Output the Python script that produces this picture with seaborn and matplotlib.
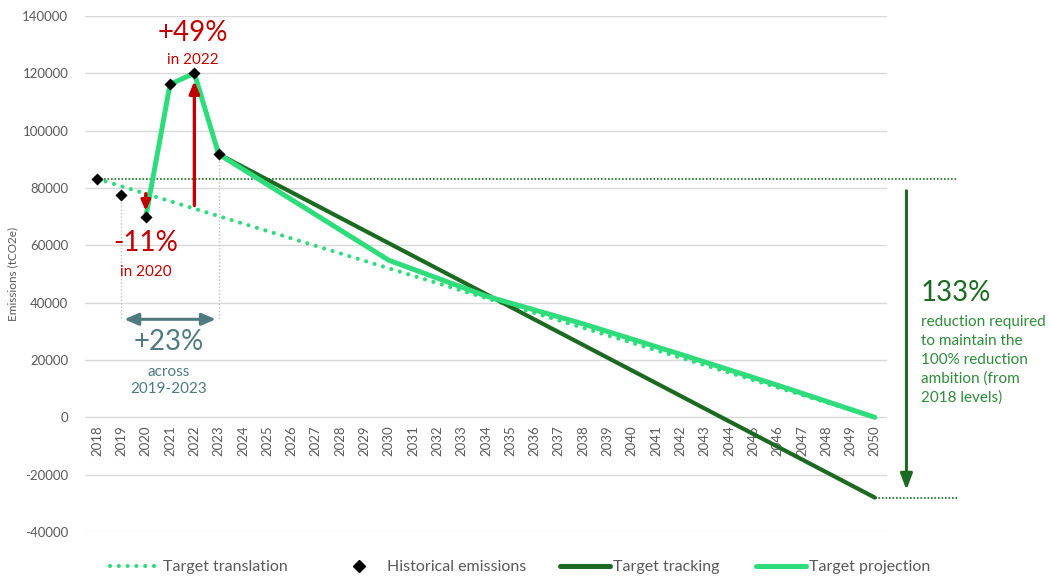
import matplotlib
matplotlib.use("Agg")
import matplotlib.pyplot as plt
from matplotlib.lines import Line2D
import seaborn as sns

# ---- data -------------------------------------------------------------
years_all = list(range(2018, 2051))

hist_years = [2018, 2019, 2020, 2021, 2022, 2023]
hist_values = [83200, 77500, 69800, 116200, 120000, 91800]

translation_years = [2018, 2050]
translation_values = [83200, 0]

tracking_years = [2023, 2050]
tracking_values = [91800, -28000]

projection_years = [2020, 2021, 2022, 2023, 2030, 2034, 2038, 2042, 2046, 2050]
projection_values = [69800, 116200, 120000, 91800, 54800, 42300, 32600, 22000, 11200, 0]

y_ticks = [-40000, -20000, 0, 20000, 40000, 60000, 80000, 100000, 120000, 140000]

legend_labels = ["Target translation", "Historical emissions",
                 "Target tracking", "Target projection"]

# ---- style ------------------------------------------------------------
sns.set_theme(style="white")
plt.rcParams["font.family"] = ["Lato", "DejaVu Sans"]

LIGHT = "#2edc7b"
DARK = "#1c6a22"
RED = "#c00000"
TEAL = "#4e7a80"
GREEN_TXT = "#2f8a3a"
GREY = "#595959"

fig = plt.figure(figsize=(10.51, 5.80), dpi=100)
ax = fig.add_axes([85 / 1051, 1 - 532 / 580, (887 - 85) / 1051, (532 - 16) / 580])

# ---- series -----------------------------------------------------------
dot_style = (0, (0.01, 2.1))
sns.lineplot(x=translation_years, y=translation_values, ax=ax, color=LIGHT,
             lw=3.0, linestyle=dot_style, dash_capstyle="round", zorder=3)
sns.lineplot(x=tracking_years, y=tracking_values, ax=ax, color=DARK, lw=3.0, zorder=4)
sns.lineplot(x=projection_years, y=projection_values, ax=ax, color=LIGHT, lw=3.6,
             zorder=5)
sns.scatterplot(x=hist_years, y=hist_values, ax=ax, marker="D", color="black",
                s=38, edgecolor="black", linewidth=0, zorder=6)

# ---- axes -------------------------------------------------------------
for s in ax.spines.values():
    s.set_visible(False)
# category labels hang from the zero line
ax.spines["bottom"].set_position(("data", 0))
ax.set_xlim(2017.5, 2050.5)
ax.set_ylim(-40000, 140000)
ax.set_yticks(y_ticks)
ax.set_yticklabels([str(v) for v in y_ticks])
ax.set_xticks(years_all)
ax.set_xticklabels([str(y) for y in years_all])
ax.grid(axis="y", color="#d9d9d9", lw=1)
ax.grid(axis="x", visible=False)
ax.tick_params(axis="y", length=0, pad=12, labelsize=9.5, labelcolor=GREY)
ax.tick_params(axis="x", length=0, pad=6, labelsize=9.5, labelcolor=GREY,
               labelrotation=90)
ax.set_xlabel("")
ax.set_ylabel("Emissions (tCO2e)", fontsize=8.5, color=GREY)
ax.yaxis.set_label_coords(-0.083, 0.5)

# ---- annotations ------------------------------------------------------
fine_dot = (0, (1, 1.1))
ax.plot([2018, 2053.4], [hist_values[0], hist_values[0]], color=DARK, lw=1.2,
        linestyle=fine_dot, clip_on=False, zorder=2)
ax.plot([2050, 2053.4], [tracking_values[-1], tracking_values[-1]], color=DARK, lw=1.2,
        linestyle=fine_dot, clip_on=False, zorder=2)
ax.annotate("", xy=(2051.3, -26300), xytext=(2051.3, 80000),
            arrowprops=dict(arrowstyle="-|>,head_width=0.3,head_length=0.8",
                            color=DARK, lw=2.2), annotation_clip=False)
ax.text(2051.9, 43300, "133%", color=DARK, fontsize=20, ha="left", va="center",
        clip_on=False)
note_lines = ["reduction required", "to maintain the", "100% reduction",
              "ambition (from", "2018 levels)"]
for i, line in enumerate(note_lines):
    ax.text(2051.9, 33300 - i * 6630, line, color=GREEN_TXT, fontsize=11,
            ha="left", va="center", clip_on=False)

# spread 2019-2023
for yr, val in [(2019, hist_values[1]), (2023, hist_values[5])]:
    ax.plot([yr, yr], [val, 34200], color="#bfbfbf", lw=1, linestyle=(0, (1, 1.5)),
            zorder=1)
ax.annotate("", xy=(2019, 34200), xytext=(2023, 34200),
            arrowprops=dict(arrowstyle="<|-|>,head_width=0.3,head_length=0.7",
                            color=TEAL, lw=2.2))
ax.text(2020.95, 26200, "+23%", color=TEAL, fontsize=20, ha="center", va="center")
ax.text(2020.95, 15700, "across", color=TEAL, fontsize=11, ha="center", va="center")
ax.text(2020.95, 9800, "2019-2023", color=TEAL, fontsize=11, ha="center", va="center")

# 2020 dip and 2022 peak
ax.annotate("", xy=(2020, 71000), xytext=(2020, 79000),
            arrowprops=dict(arrowstyle="-|>,head_width=0.22,head_length=0.5",
                            color=RED, lw=2.4), zorder=7)
ax.annotate("", xy=(2022, 118300), xytext=(2022, 72900),
            arrowprops=dict(arrowstyle="-|>,head_width=0.25,head_length=0.6",
                            color=RED, lw=2.4), zorder=7)
ax.text(2020, 60700, "-11%", color=RED, fontsize=20, ha="center", va="center")
ax.text(2020, 50600, "in 2020", color=RED, fontsize=11, ha="center", va="center")
ax.text(2021.95, 134000, "+49%", color=RED, fontsize=20, ha="center", va="center")
ax.text(2021.95, 124600, "in 2022", color=RED, fontsize=11, ha="center", va="center")

# ---- legend: one entry each, spread along the bottom -------------------
handles = [
    Line2D([], [], color=LIGHT, lw=3.0, linestyle=dot_style, dash_capstyle="round"),
    Line2D([], [], color="black", marker="D", markersize=6, linestyle="none"),
    Line2D([], [], color=DARK, lw=3.6),
    Line2D([], [], color=LIGHT, lw=3.6),
]
entry_x = [110, 334, 560, 756]
for h, lab, x0 in zip(handles, legend_labels, entry_x):
    fig.legend([h], [lab], loc="center left", bbox_to_anchor=(x0 / 1051, 0.022),
               frameon=False, fontsize=11.5, handlelength=3.1, handletextpad=0.2,
               borderpad=0, borderaxespad=0, labelcolor=GREY)

fig.savefig("out.png", dpi=100)
